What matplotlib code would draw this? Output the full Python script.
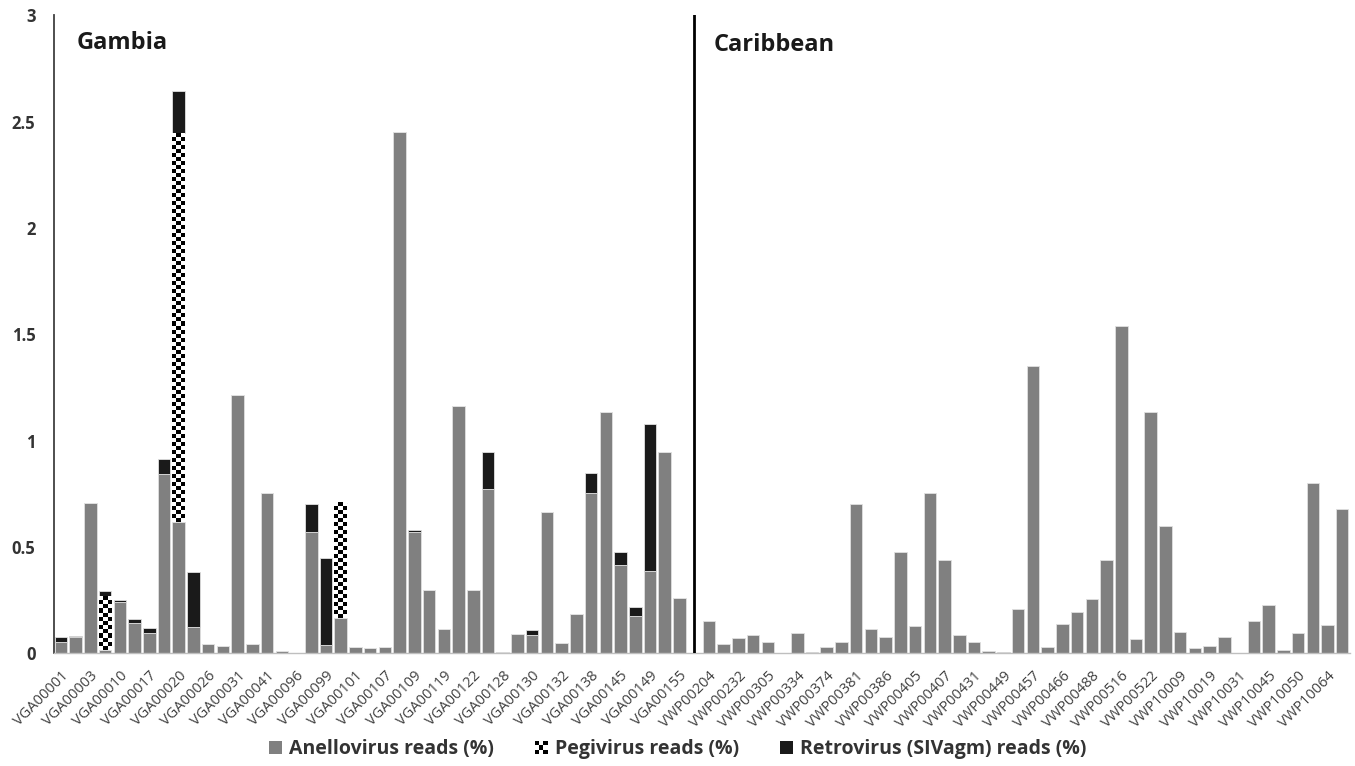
import numpy as np
import matplotlib
matplotlib.use("Agg")
import matplotlib.pyplot as plt
from matplotlib.patches import Rectangle
from matplotlib.legend_handler import HandlerBase

plt.rcParams["font.family"] = ["Open Sans", "DejaVu Sans"]

# --- data --------------------------------------------------------------------
gambia_anello = [0.055, 0.075, 0.706, 0.015, 0.241, 0.141, 0.094, 0.845, 0.619, 0.125,
                 0.045, 0.033, 1.215, 0.045, 0.754, 0.009, 0.002, 0.571, 0.038, 0.165,
                 0.028, 0.024, 0.030, 2.452, 0.572, 0.298, 0.116, 1.162, 0.296, 0.773,
                 0.006, 0.091, 0.088, 0.663, 0.047, 0.187, 0.753, 1.135, 0.417, 0.176,
                 0.386, 0.949, 0.259]
gambia_pegi = [0, 0, 0, 0.252, 0, 0, 0, 0, 1.827, 0,
               0, 0, 0, 0, 0, 0, 0, 0, 0, 0.544,
               0, 0, 0, 0, 0, 0, 0, 0, 0, 0,
               0, 0, 0, 0, 0, 0, 0, 0, 0, 0,
               0, 0, 0]
gambia_retro = [0.022, 0.008, 0, 0.025, 0.008, 0.020, 0.024, 0.071, 0.200, 0.259,
                0, 0, 0, 0, 0, 0, 0, 0.130, 0.410, 0,
                0, 0, 0, 0, 0.010, 0, 0, 0, 0, 0.172,
                0, 0, 0.023, 0, 0, 0, 0.097, 0, 0.061, 0.043,
                0.693, 0, 0]
carib_anello = [0.154, 0.042, 0.071, 0.086, 0.055, 0.0, 0.097, 0.005, 0.030, 0.052,
                0.701, 0.113, 0.077, 0.478, 0.127, 0.753, 0.437, 0.086, 0.052, 0.011,
                0.008, 0.208, 1.351, 0.030, 0.138, 0.194, 0.256, 0.439, 1.539, 0.067,
                1.134, 0.600, 0.102, 0.024, 0.036, 0.077, 0.0, 0.152, 0.227, 0.016,
                0.097, 0.800, 0.133, 0.679]

# only every other sample is labelled on the axis
gambia_labels = ["VGA00001", "VGA00003", "VGA00010", "VGA00017", "VGA00020", "VGA00026",
                 "VGA00031", "VGA00041", "VGA00096", "VGA00099", "VGA00101", "VGA00107",
                 "VGA00109", "VGA00119", "VGA00122", "VGA00128", "VGA00130", "VGA00132",
                 "VGA00138", "VGA00145", "VGA00149", "VGA00155"]
carib_labels = ["VWP00204", "VWP00232", "VWP00305", "VWP00334", "VWP00374", "VWP00381",
                "VWP00386", "VWP00405", "VWP00407", "VWP00431", "VWP00449", "VWP00457",
                "VWP00466", "VWP00488", "VWP00516", "VWP00522", "VWP10009", "VWP10019",
                "VWP10031", "VWP10045", "VWP10050", "VWP10064"]

GRAY = "#808080"
BLACK = "#1a1a1a"
EDGE = "#e0e0e0"
TXT = "#333333"


def checker(nx, ny):
    return (np.add.outer(np.arange(ny), np.arange(nx)) % 2).astype(float)


class CheckerHandler(HandlerBase):
    def create_artists(self, legend, orig_handle, xdescent, ydescent, width, height,
                       fontsize, trans):
        n = 3
        w, h = width / n, height / n
        arts = [Rectangle((-xdescent, -ydescent), width, height, facecolor="white",
                          edgecolor="none", transform=trans)]
        for i in range(n):
            for j in range(n):
                if (i + j) % 2 == 0:
                    arts.append(Rectangle((-xdescent + i * w, -ydescent + j * h), w, h,
                                          facecolor="black", edgecolor="none",
                                          transform=trans))
        return arts


fig = plt.figure(figsize=(13.55, 7.66), dpi=100)
ax = fig.add_axes([0.0395, 0.1471, 0.9565, 0.8327])

n_g = len(gambia_anello)
x_g = np.arange(n_g)
x_c = np.arange(len(carib_anello)) + n_g + 1   # one empty slot holds the divider
divider = n_g

ax.set_xlim(-0.5, x_c[-1] + 0.5)
ax.set_ylim(0, 3)

bw = 0.85
g_an = np.array(gambia_anello)
g_pe = np.array(gambia_pegi)
g_re = np.array(gambia_retro)

ax.bar(x_g, g_an, bw, color=GRAY, edgecolor=EDGE, linewidth=0.6)
ax.bar(x_c, carib_anello, bw, color=GRAY, edgecolor=EDGE, linewidth=0.6)
bars_pe = ax.bar(x_g, g_pe, bw, bottom=g_an, color="white", edgecolor="none")
ax.bar(x_g, g_re, bw, bottom=g_an + g_pe, color=BLACK, edgecolor=EDGE, linewidth=0.6)

# checkerboard fill for the pegivirus segments (~4 px squares)
for b in bars_pe:
    if b.get_height() <= 0:
        continue
    x0, y0, w, h = b.get_x(), b.get_y(), b.get_width(), b.get_height()
    p0 = ax.transData.transform((x0, y0))
    p1 = ax.transData.transform((x0 + w, y0 + h))
    ny = max(1, int(round((p1[1] - p0[1]) / 4.0)))
    ax.imshow(checker(3, ny), cmap="gray_r", vmin=0, vmax=1, interpolation="nearest",
              extent=(x0, x0 + w, y0, y0 + h), origin="lower", aspect="auto",
              clip_path=b, zorder=2)
ax.set_xlim(-0.5, x_c[-1] + 0.5)
ax.set_ylim(0, 3)

ax.axvline(divider, color="black", linewidth=2, zorder=3)

# axes styling
for s in ["top", "right"]:
    ax.spines[s].set_visible(False)
ax.spines["left"].set_color("#404040")
ax.spines["left"].set_linewidth(1.3)
ax.spines["bottom"].set_color("#bfbfbf")
ax.spines["bottom"].set_linewidth(1.0)

ax.set_yticks([0, 0.5, 1, 1.5, 2, 2.5, 3])
ax.set_yticklabels(["0", "0.5", "1", "1.5", "2", "2.5", "3"], fontsize=12,
                   fontweight="bold", color=TXT)
ticks = list(x_g[::2]) + list(x_c[::2])
ax.set_xticks(ticks)
ax.set_xticklabels(gambia_labels + carib_labels, rotation=45, ha="right", va="top",
                   rotation_mode="anchor", fontsize=10.5, color="#404040")
ax.tick_params(axis="both", length=0)
ax.tick_params(axis="x", pad=11)
ax.tick_params(axis="y", pad=13)

ax.text(0.018, 0.957, "Gambia", transform=ax.transAxes, fontsize=17, fontweight="bold",
        color=BLACK, va="center", ha="left")
ax.text(0.509, 0.954, "Caribbean", transform=ax.transAxes, fontsize=17, fontweight="bold",
        color=BLACK, va="center", ha="left")

h_an = Rectangle((0, 0), 1, 1, facecolor=GRAY)
h_pe = Rectangle((0, 0), 1, 1, facecolor="white")
h_re = Rectangle((0, 0), 1, 1, facecolor=BLACK)
leg = fig.legend([h_an, h_pe, h_re],
                 ["Anellovirus reads (%)", "Pegivirus reads (%)",
                  "Retrovirus (SIVagm) reads (%)"],
                 handler_map={h_pe: CheckerHandler()},
                 loc="center", bbox_to_anchor=(0.5, 0.022), ncol=3, frameon=False,
                 prop={"size": 14, "weight": "bold"}, handlelength=0.68,
                 handleheight=0.68, handletextpad=0.35, columnspacing=2.1)
for t in leg.get_texts():
    t.set_color(TXT)

fig.savefig("out.png", dpi=100)
